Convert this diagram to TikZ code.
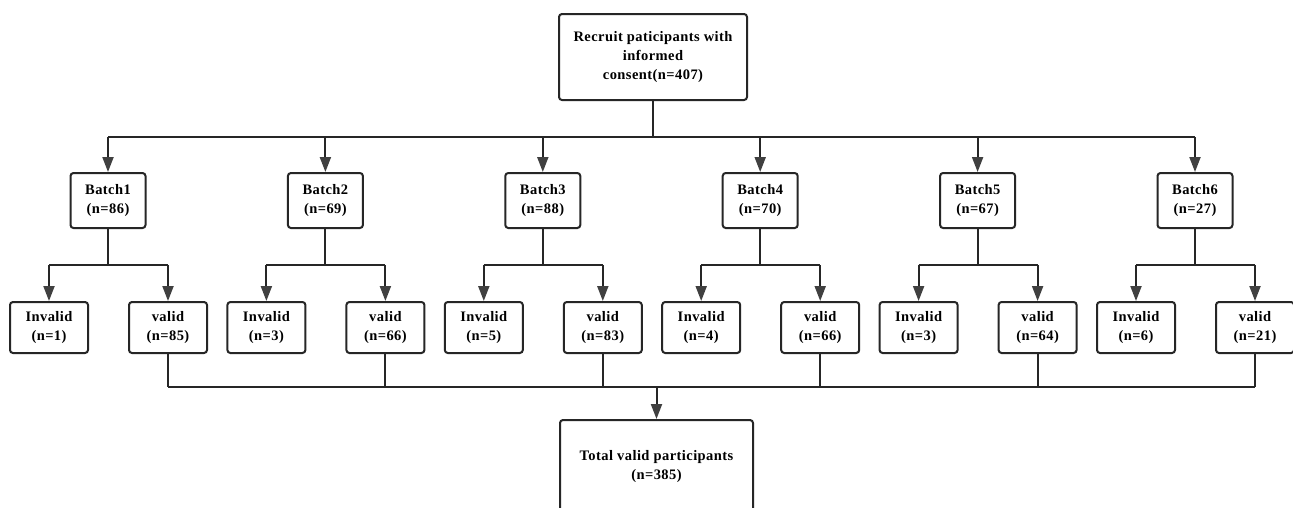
\documentclass[tikz,border=0pt]{standalone}
\usepackage{fontspec}
\setmainfont{Liberation Serif}[LetterSpace=3]
\usetikzlibrary{arrows.meta}
\begin{document}
\begin{tikzpicture}[x=1pt,y=-1pt,
  box/.style={draw=black!85, line width=2pt, rounded corners=3pt, align=center,
    font=\bfseries\fontsize{14.5}{19}\selectfont, inner sep=0pt, fill=white},
  bbox/.style={box, minimum width=75pt, minimum height=55pt},
  lbox/.style={box, minimum width=78pt, minimum height=51pt},
  ln/.style={draw=black!85, line width=2pt},
  arr/.style={ln, -{Triangle[length=15pt,width=11pt,fill=black!75,color=black!75]}}]
\clip (0,0) rectangle (1293,507);
\fill[white] (0,0) rectangle (1293,507);
\node[box, minimum width=188pt, minimum height=86pt] (top) at (653,57)
  {Recruit paticipants with\\informed\\consent(n=407)};
\node[box, minimum width=193pt, minimum height=94pt] (total) at (656.5,467)
  {Total valid participants\\(n=385)};
\coordinate (hub) at (653,137);
\coordinate (low) at (0,387);
\coordinate (mid) at (0,265);
\foreach \i/\bn/\inv/\val in {1/86/1/85,2/69/3/66,3/88/5/83,4/70/4/66,5/67/3/64,6/27/6/21}{
  \pgfmathsetmacro\cx{108+217.4*(\i-1)}
  \pgfmathsetmacro\ix{\cx-59}
  \pgfmathsetmacro\vx{\cx+60}
  \node[bbox] (b\i) at (\cx,200.5) {Batch\i\\(n=\bn)};
  \node[lbox] (i\i) at (\ix,327.5) {Invalid\\(n=\inv)};
  \node[lbox] (v\i) at (\vx,327.5) {valid\\(n=\val)};
}
\draw[ln] (top) -- (hub);
\draw[ln] (b1 |- hub) -- (b6 |- hub);
\foreach \i in {1,...,6}{
  \draw[arr] (b\i |- hub) -- (b\i);
  \draw[ln] (b\i) -- (b\i |- mid);
  \draw[ln] (i\i |- mid) -- (v\i |- mid);
  \draw[arr] (i\i |- mid) -- (i\i);
  \draw[arr] (v\i |- mid) -- (v\i);
  \draw[ln] (v\i) -- (v\i |- low);
}
\draw[ln] (v1 |- low) -- (v6 |- low);
\draw[arr] (total |- low) -- (total);
\end{tikzpicture}
\end{document}
